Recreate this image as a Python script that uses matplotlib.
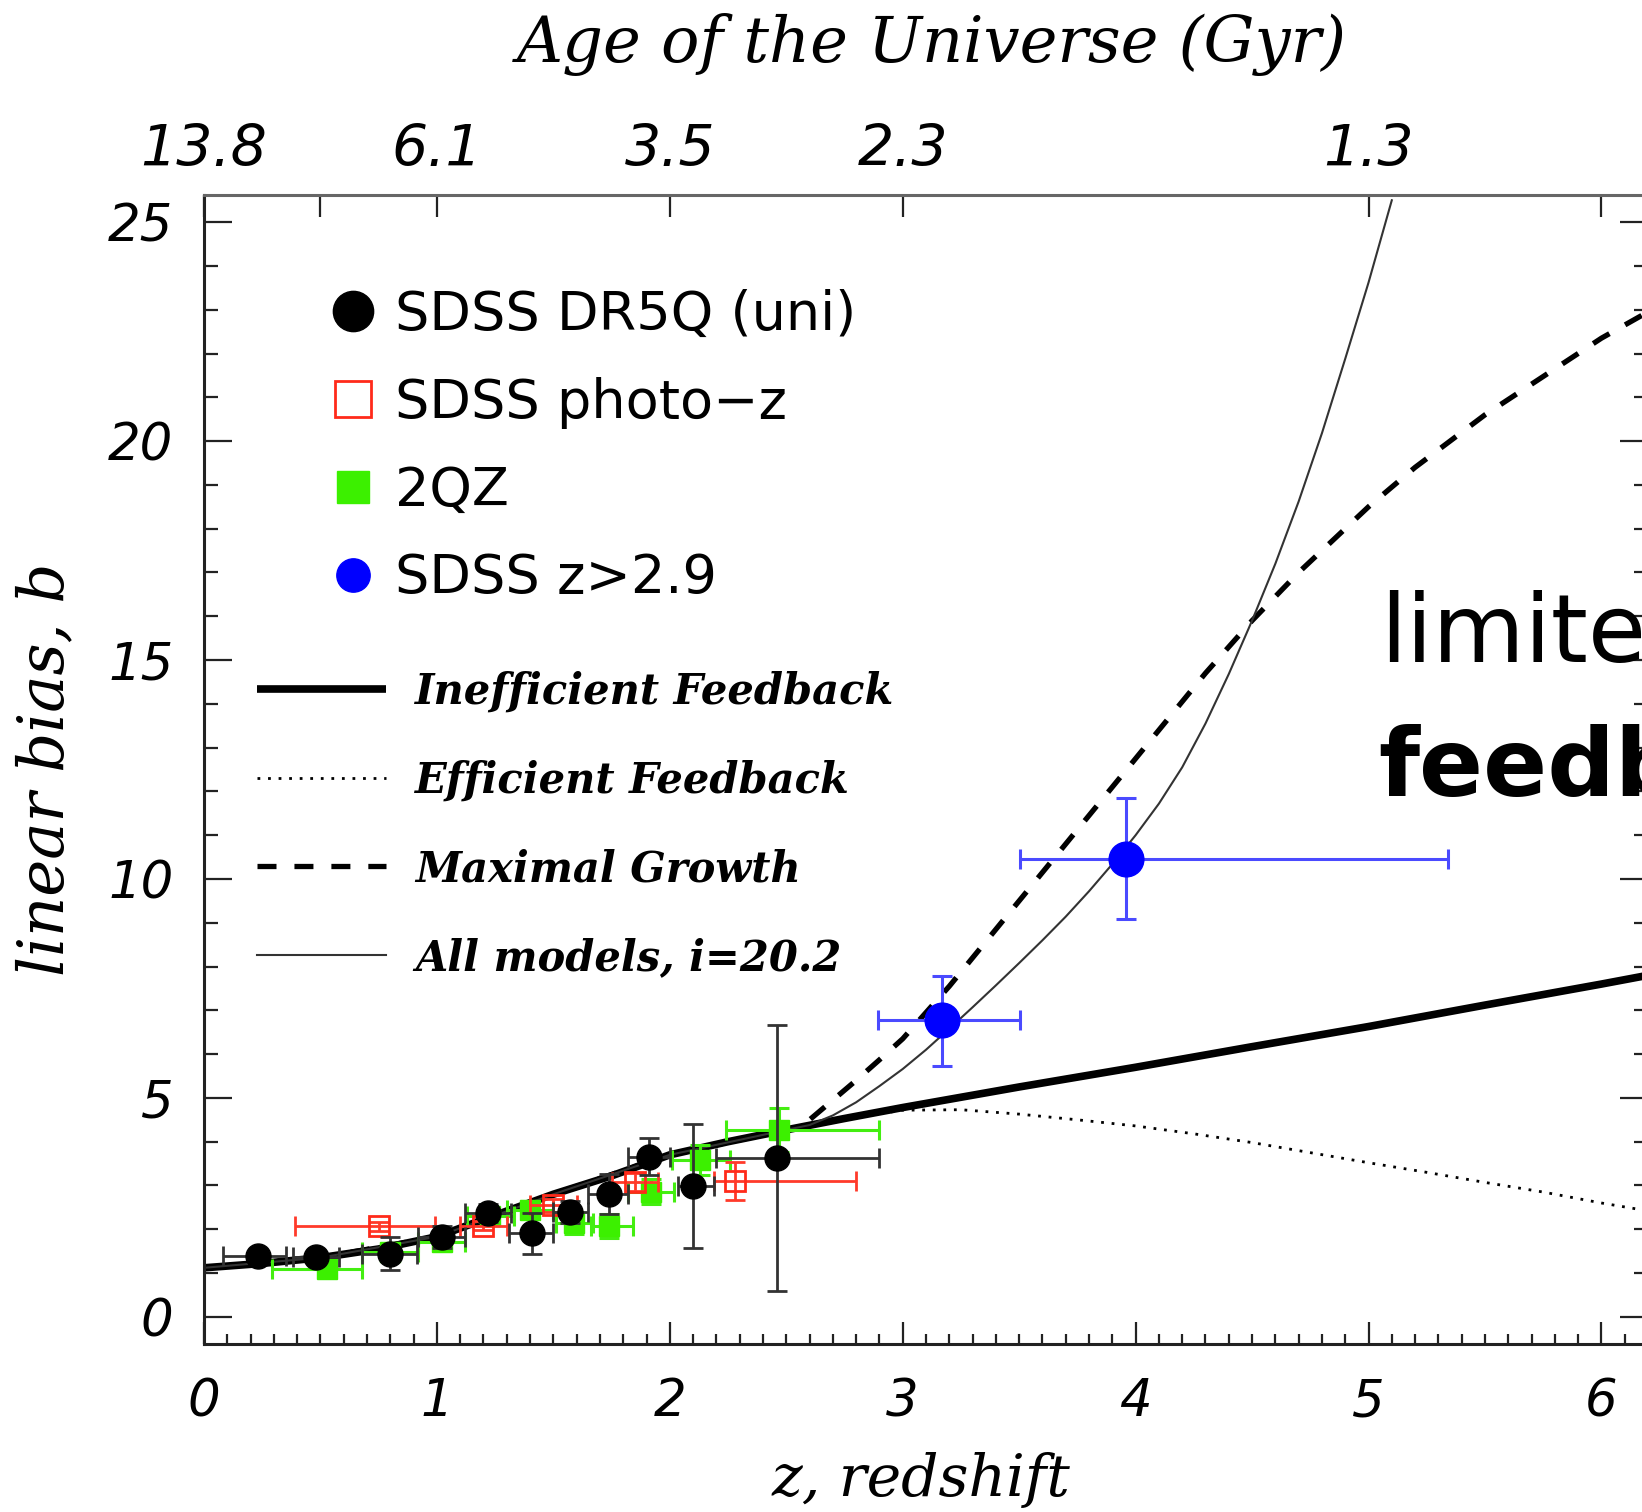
import numpy as np
import matplotlib.pyplot as plt
from matplotlib.lines import Line2D
from matplotlib.ticker import MultipleLocator, FixedLocator
from matplotlib.font_manager import FontProperties

# model curves (z, linear bias)
z_ineff = [0.0, 0.25, 0.5, 0.75, 1.0, 1.25, 1.5, 1.75, 2.0, 2.25, 2.5, 2.75, 3.0, 3.5, 4.0, 4.5, 5.0, 5.5, 6.0, 6.2]
b_ineff = [1.12, 1.22, 1.35, 1.55, 1.83, 2.32, 2.8, 3.22, 3.7, 4.0, 4.27, 4.53, 4.78, 5.25, 5.7, 6.17, 6.63, 7.12, 7.6, 7.8]

z_eff = [0.0, 0.5, 1.0, 1.5, 2.0, 2.5, 2.75, 3.0, 3.25, 3.5, 3.75, 4.0, 4.25, 4.5, 4.75, 5.0, 5.25, 5.5, 5.75, 6.0, 6.2]
b_eff = [1.12, 1.35, 1.83, 2.8, 3.7, 4.27, 4.52, 4.72, 4.73, 4.63, 4.5, 4.36, 4.18, 3.98, 3.75, 3.52, 3.3, 3.07, 2.85, 2.6, 2.42]

z_max = [0.0, 0.5, 1.0, 1.5, 2.0, 2.5, 2.55, 2.6, 2.7, 2.8, 2.9, 3.0, 3.1, 3.2, 3.3, 3.4, 3.5,
         3.6, 3.7, 3.8, 3.9, 4.0, 4.1, 4.2, 4.3, 4.4, 4.5, 4.6, 4.7, 4.8, 4.9, 5.0,
         5.1, 5.2, 5.3, 5.4, 5.5, 5.6, 5.7, 5.8, 5.9, 6.0, 6.1, 6.2]
b_max = [1.12, 1.35, 1.83, 2.8, 3.7, 4.27, 4.33, 4.5, 4.95, 5.4, 5.87, 6.35, 6.95, 7.55, 8.2, 8.85, 9.5,
         10.15, 10.8, 11.45, 12.1, 12.75, 13.4, 14.05, 14.7, 15.3, 15.9, 16.45, 17.0, 17.5, 18.0, 18.5,
         18.95, 19.4, 19.8, 20.2, 20.6, 20.95, 21.3, 21.65, 22.0, 22.35, 22.65, 22.95]

z_all = [0.0, 0.5, 1.0, 1.5, 2.0, 2.5, 2.6, 2.7, 2.8, 2.9, 3.0, 3.1, 3.2, 3.3, 3.4, 3.5, 3.6, 3.7,
         3.8, 3.9, 4.0, 4.1, 4.2, 4.3, 4.4, 4.5, 4.6, 4.7, 4.8, 4.9, 5.0, 5.1]
b_all = [1.12, 1.35, 1.83, 2.8, 3.7, 4.27, 4.38, 4.6, 4.9, 5.27, 5.66, 6.1, 6.58, 7.07, 7.57, 8.08, 8.6, 9.14,
         9.72, 10.34, 11.0, 11.72, 12.55, 13.55, 14.68, 15.9, 17.2, 18.62, 20.18, 21.88, 23.62, 25.5]

# SDSS DR5Q (uni)
z_dr5 = [0.23, 0.48, 0.80, 1.02, 1.22, 1.41, 1.57, 1.74, 1.91, 2.10, 2.46]
b_dr5 = [1.38, 1.36, 1.44, 1.82, 2.37, 1.91, 2.40, 2.81, 3.66, 2.99, 3.63]
berr_dr5 = [0.12, 0.12, 0.38, 0.25, 0.2, 0.47, 0.25, 0.45, 0.42, 1.42, 3.03]
zlo_dr5 = [0.15, 0.1, 0.12, 0.1, 0.1, 0.1, 0.07, 0.09, 0.09, 0.065, 0.26]
zhi_dr5 = [0.12, 0.1, 0.115, 0.1, 0.1, 0.09, 0.08, 0.08, 0.09, 0.09, 0.44]

# SDSS photo-z
z_phot = [0.75, 1.20, 1.50, 1.85, 2.28]
b_phot = [2.07, 2.08, 2.55, 3.08, 3.10]
berr_phot = [0.1, 0.1, 0.15, 0.2, 0.44]
zlo_phot = [0.36, 0.1, 0.1, 0.1, 0.09]
zhi_phot = [0.24, 0.1, 0.1, 0.1, 0.52]

# 2QZ
z_2qz = [0.53, 0.80, 1.02, 1.23, 1.40, 1.59, 1.74, 1.92, 2.13, 2.47]
b_2qz = [1.1, 1.47, 1.72, 2.3, 2.45, 2.15, 2.08, 2.86, 3.58, 4.27]
berr_2qz = [0.1, 0.12, 0.15, 0.2, 0.2, 0.25, 0.28, 0.28, 0.35, 0.5]
zlo_2qz = [0.24, 0.12, 0.1, 0.1, 0.1, 0.08, 0.08, 0.1, 0.12, 0.23]
zhi_2qz = [0.15, 0.12, 0.1, 0.1, 0.1, 0.08, 0.1, 0.1, 0.13, 0.43]

# SDSS z>2.9
z_hi = [3.17, 3.96]
b_hi = [6.78, 10.46]
blo_hi = [1.05, 1.38]
bhi_hi = [1.01, 1.38]
zlo_hi = [0.274, 0.457]
zhi_hi = [0.334, 1.383]

age_pos = [0, 0.5, 1, 2, 3, 5, 6]
age_lab = ['13.8', '', '6.1', '3.5', '2.3', '1.3', '']

fig = plt.figure(figsize=(16.42, 15.12), dpi=100)
ax = fig.add_axes([204/1642, 1-1344/1512, 1444/1642, 1149/1512])

l1, = ax.plot(z_ineff, b_ineff, color='black', lw=5.5, solid_capstyle='butt', zorder=2,
              label='Inefficient Feedback')
l2, = ax.plot(z_eff, b_eff, color='black', lw=2.0, ls=(0, (1.0, 2.8)), zorder=2,
              label='Efficient Feedback')
l3, = ax.plot(z_max, b_max, color='black', lw=3.8, ls=(0, (3.6, 3.4)), zorder=2,
              label='Maximal Growth')
l4, = ax.plot(z_all, b_all, color='#333333', lw=1.5, zorder=2,
              label='All models, i=20.2')

ax.errorbar(z_2qz, b_2qz, yerr=berr_2qz, xerr=[zlo_2qz, zhi_2qz], fmt='s', ms=14,
            color='#3cf000', ecolor='#44ee11', elinewidth=2.2, capsize=7, capthick=2.2, zorder=3)
ax.errorbar(z_phot, b_phot, yerr=berr_phot, xerr=[zlo_phot, zhi_phot], fmt='s', ms=14,
            mfc='none', mec='#ff2a1a', mew=2, ecolor='#ff3a2a', elinewidth=2, capsize=7,
            capthick=2, zorder=4)
ax.errorbar(z_dr5, b_dr5, yerr=berr_dr5, xerr=[zlo_dr5, zhi_dr5], fmt='o', ms=18,
            color='black', ecolor='#333333', elinewidth=2, capsize=7, capthick=2, zorder=5)
ax.errorbar(z_hi, b_hi, yerr=[blo_hi, bhi_hi], xerr=[zlo_hi, zhi_hi], fmt='o', ms=25,
            color='#0000ff', ecolor='#4a4aff', elinewidth=2.2, capsize=7, capthick=2.2, zorder=6)

ax.set_xlim(0, 6.2)
ax.set_ylim(-0.62, 25.62)

ax.xaxis.set_major_locator(MultipleLocator(1))
ax.xaxis.set_minor_locator(MultipleLocator(0.1))
ax.yaxis.set_major_locator(MultipleLocator(5))
ax.yaxis.set_minor_locator(MultipleLocator(1))
ax.tick_params(axis='both', which='both', direction='in', top=False, right=True, width=1.6, color='#222222')
ax.tick_params(axis='y', which='major', length=20, pad=22, labelsize=37)
ax.tick_params(axis='y', which='minor', length=10)
ax.tick_params(axis='x', which='major', length=16, pad=24, labelsize=37)
ax.tick_params(axis='x', which='minor', length=7.5)
for lab in ax.get_xticklabels() + ax.get_yticklabels():
    lab.set_fontstyle('italic')

for s in ['left', 'bottom']:
    ax.spines[s].set_linewidth(2.2)
    ax.spines[s].set_color('#222222')
ax.spines['top'].set_linewidth(2.2)
ax.spines['top'].set_color('#666666')

ax.set_xlabel('z, redshift', family='DejaVu Serif', style='italic', fontsize=42)
ax.xaxis.set_label_coords(0.4966, -0.094)
ax.set_ylabel('linear bias, b', family='DejaVu Serif', style='italic', fontsize=45)
ax.yaxis.set_label_coords(-0.088, 0.5)

sec = ax.secondary_xaxis('top')
sec.xaxis.set_major_locator(FixedLocator(age_pos))
sec.set_xticklabels(age_lab)
sec.tick_params(axis='x', direction='in', length=16, width=1.6, pad=12, labelsize=41, color='#222222')
for lab in sec.get_xticklabels():
    lab.set_fontstyle('italic')
sec.spines['top'].set_visible(False)
fig.text(932/1642, 1-76/1512, 'Age of the Universe (Gyr)', family='DejaVu Serif', style='italic',
         fontsize=46, ha='center', va='bottom')

data_handles = [
    Line2D([], [], ls='none', marker='o', ms=29, color='black'),
    Line2D([], [], ls='none', marker='s', ms=26, mfc='none', mec='#ff2a1a', mew=2),
    Line2D([], [], ls='none', marker='s', ms=23, color='#3cf000'),
    Line2D([], [], ls='none', marker='o', ms=24, color='#0000ff'),
]
data_labels = ['SDSS DR5Q (uni)', 'SDSS photo\u2212z', '2QZ', 'SDSS z>2.9']
leg1 = ax.legend(data_handles, data_labels, loc='upper left', bbox_to_anchor=(0.088, 0.918),
                 frameon=False, borderpad=0, borderaxespad=0, handlelength=0.8,
                 handletextpad=0.38, labelspacing=0.66,
                 prop=FontProperties(family='DejaVu Sans', size=39))
ax.add_artist(leg1)
ax.legend([l1, l2, l3, l4], [l1.get_label(), l2.get_label(), l3.get_label(), l4.get_label()],
          loc='upper left', bbox_to_anchor=(0.0366, 0.586), frameon=False, borderpad=0,
          borderaxespad=0, handlelength=3.1, handletextpad=0.7, labelspacing=1.12,
          prop=FontProperties(family='DejaVu Serif', style='italic', weight='bold', size=30))

fig.text(1380/1642, 1-662/1512, 'limited', family='DejaVu Sans', fontsize=68, va='baseline')
fig.text(1378/1642, 1-796/1512, 'feedback', family='DejaVu Sans', weight='bold', fontsize=68,
         va='baseline')

plt.savefig('out.png', dpi=100)
